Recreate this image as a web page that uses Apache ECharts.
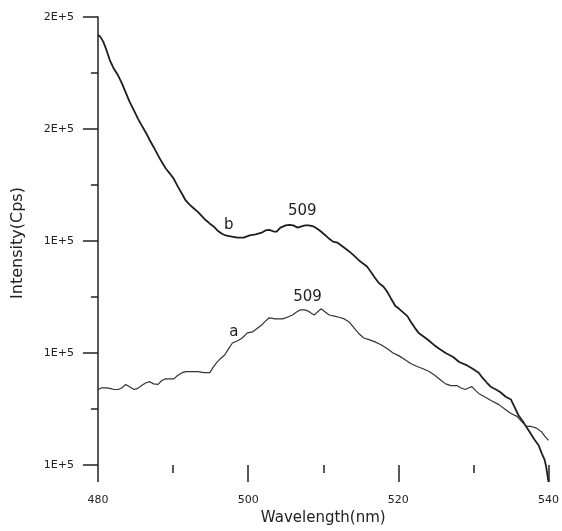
<!DOCTYPE html>
<html>
<head>
<meta charset="utf-8">
<script src="https://cdn.jsdelivr.net/npm/echarts@6/dist/echarts.min.js"></script>
<style>
  html, body { margin: 0; padding: 0; background: #fff; }
  #chart { width: 562px; height: 531px; }
</style>
</head>
<body>
<div id="chart"></div>
<script>
// curve b (upper)
const wavelengthB = [480.0, 480.3, 480.7, 481.1, 481.6, 482.1, 482.7, 483.2, 483.7, 484.2, 484.8, 485.3, 485.8, 486.4, 486.9, 487.4, 488.0, 488.5, 489.0, 489.6, 490.1, 490.6, 491.2, 491.7, 492.2, 492.7, 493.3, 493.8, 494.3, 494.9, 495.4, 495.9, 496.5, 497.0, 497.8, 498.6, 499.4, 500.2, 501.0, 501.8, 502.3, 502.8, 503.4, 503.8, 504.3, 505.0, 505.5, 506.0, 506.6, 507.1, 507.6, 508.1, 508.7, 509.2, 509.7, 510.3, 510.8, 511.3, 511.9, 512.4, 512.9, 513.5, 514.1, 514.8, 515.3, 515.8, 516.4, 516.9, 517.4, 518.0, 518.5, 519.0, 519.6, 520.1, 520.6, 521.2, 521.7, 522.2, 522.7, 523.4, 524.1, 524.7, 525.4, 526.3, 527.3, 528.1, 529.0, 529.9, 530.7, 531.2, 531.8, 532.3, 533.0, 533.6, 534.3, 535.0, 535.5, 536.0, 536.6, 537.1, 537.6, 538.1, 538.7, 539.1, 539.5, 539.7, 540.0];
const intensityB = [176800, 176500, 175600, 174200, 172200, 170800, 169500, 168100, 166500, 164900, 163300, 161900, 160700, 159300, 158000, 156800, 155300, 154100, 153000, 152000, 151100, 149800, 148400, 147200, 146500, 145900, 145200, 144500, 143800, 143100, 142600, 141900, 141300, 141000, 140800, 140600, 140600, 141000, 141200, 141500, 141900, 142000, 141700, 141700, 142400, 142800, 142900, 142800, 142400, 142600, 142800, 142800, 142600, 142200, 141700, 141000, 140400, 139900, 139700, 139200, 138700, 138100, 137400, 136500, 136000, 135500, 134400, 133400, 132500, 131900, 131000, 129800, 128400, 127900, 127300, 126600, 125500, 124500, 123600, 122900, 122200, 121500, 120800, 120000, 119300, 118400, 117900, 117200, 116500, 115600, 114700, 114000, 113500, 113000, 112200, 111700, 110300, 108900, 107800, 106700, 105700, 104600, 103500, 102100, 100900, 99600, 97000];

// curve a (lower)
const wavelengthA = [480.0, 480.5, 481.1, 481.6, 482.1, 482.7, 483.2, 483.7, 484.2, 484.8, 485.3, 485.8, 486.4, 486.9, 487.4, 488.0, 488.5, 489.0, 489.6, 490.1, 490.6, 491.2, 491.7, 492.5, 493.3, 494.1, 494.9, 495.3, 495.8, 496.3, 496.9, 497.4, 497.9, 498.6, 499.2, 499.9, 500.6, 501.1, 501.8, 502.3, 502.8, 503.6, 504.6, 505.2, 505.9, 506.4, 506.9, 507.5, 508.0, 508.4, 508.8, 509.2, 509.7, 510.3, 510.8, 511.5, 512.1, 512.8, 513.5, 514.1, 514.8, 515.4, 516.1, 516.9, 517.7, 518.5, 519.3, 520.1, 520.9, 521.7, 522.5, 523.3, 524.1, 524.9, 525.7, 526.3, 527.0, 527.8, 528.3, 528.9, 529.4, 529.8, 530.3, 530.7, 531.6, 532.4, 533.4, 534.3, 535.0, 535.8, 536.4, 537.1, 537.7, 538.4, 539.1, 539.6, 540.0];
const intensityA = [113500, 113800, 113800, 113700, 113500, 113500, 113800, 114400, 114000, 113500, 113700, 114200, 114700, 114900, 114500, 114400, 115100, 115400, 115400, 115400, 116000, 116500, 116700, 116700, 116700, 116500, 116500, 117400, 118300, 119000, 119700, 120800, 121800, 122200, 122700, 123600, 123800, 124300, 125000, 125700, 126300, 126100, 126100, 126400, 126800, 127300, 127700, 127700, 127500, 127100, 126800, 127300, 127900, 127300, 126800, 126600, 126400, 126100, 125500, 124500, 123400, 122700, 122400, 122000, 121500, 120800, 120000, 119500, 118800, 118100, 117600, 117200, 116700, 116000, 115100, 114500, 114200, 114200, 113800, 113500, 113800, 114000, 113300, 112800, 112100, 111500, 110800, 109900, 109200, 108700, 107800, 106900, 106900, 106600, 105900, 105000, 104400];

const xTicks = [480, 500, 520, 540];
const yTickLabels = ['1E+5', '1E+5', '1E+5', '2E+5', '2E+5'];

// text annotations: [label, wavelength, intensity]
const notes = [
  ['b', 497.4, 142900],
  ['509', 507.2, 145400],
  ['a', 498.1, 123800],
  ['509', 507.9, 130000]
];

const font = 'DejaVu Sans';
const chart = echarts.init(document.getElementById('chart'));

const zip = (xs, ys) => xs.map((x, i) => [x, ys[i]]);

const option = {
  backgroundColor: '#fff',
  animation: false,
  grid: { left: 98, right: 12, top: 17, bottom: 63 },
  xAxis: {
    type: 'value',
    min: xTicks[0],
    max: xTicks[xTicks.length - 1],
    interval: 20,
    name: 'Wavelength(nm)',
    nameLocation: 'middle',
    nameGap: 45,
    nameTextStyle: { fontFamily: font, fontSize: 15, color: '#222' },
    axisLine: { show: false },
    axisTick: { show: true, length: 17, lineStyle: { color: '#222', width: 1.5 } },
    minorTick: { show: true, splitNumber: 2, length: 8, lineStyle: { color: '#222', width: 1.5 } },
    axisLabel: { fontFamily: font, fontSize: 11, color: '#222', margin: 30 },
    splitLine: { show: false },
    minorSplitLine: { show: false }
  },
  yAxis: {
    type: 'value',
    min: 100000,
    max: 180000,
    interval: 20000,
    axisLine: { show: true, lineStyle: { color: '#222', width: 1.5 } },
    axisTick: { show: true, length: 15, lineStyle: { color: '#222', width: 1.5 } },
    minorTick: { show: true, splitNumber: 2, length: 7, lineStyle: { color: '#222', width: 1.5 } },
    axisLabel: {
      fontFamily: font, fontSize: 11, color: '#222', margin: 24,
      formatter: (v, i) => yTickLabels[i]
    },
    splitLine: { show: false },
    minorSplitLine: { show: false }
  },
  graphic: [{
    type: 'text',
    x: 18,
    y: 243,
    rotation: Math.PI / 2,
    style: {
      text: 'Intensity(Cps)',
      font: '16px "DejaVu Sans"',
      fill: '#222',
      align: 'center',
      verticalAlign: 'middle'
    }
  }],
  series: [
    {
      name: 'b',
      type: 'line',
      data: zip(wavelengthB, intensityB),
      showSymbol: false,
      clip: false,
      lineStyle: { color: '#1e1e1e', width: 1.8 },
      markPoint: {
        symbol: 'circle',
        symbolSize: 0,
        label: { show: true, fontFamily: font, fontSize: 15, color: '#222', formatter: p => p.name },
        data: notes.slice(0, 2).map(n => ({ name: n[0], coord: [n[1], n[2]] }))
      }
    },
    {
      name: 'a',
      type: 'line',
      data: zip(wavelengthA, intensityA),
      showSymbol: false,
      clip: false,
      lineStyle: { color: '#333', width: 1.2 },
      markPoint: {
        symbol: 'circle',
        symbolSize: 0,
        label: { show: true, fontFamily: font, fontSize: 15, color: '#222', formatter: p => p.name },
        data: notes.slice(2).map(n => ({ name: n[0], coord: [n[1], n[2]] }))
      }
    }
  ]
};

chart.setOption(option);
</script>
</body>
</html>
